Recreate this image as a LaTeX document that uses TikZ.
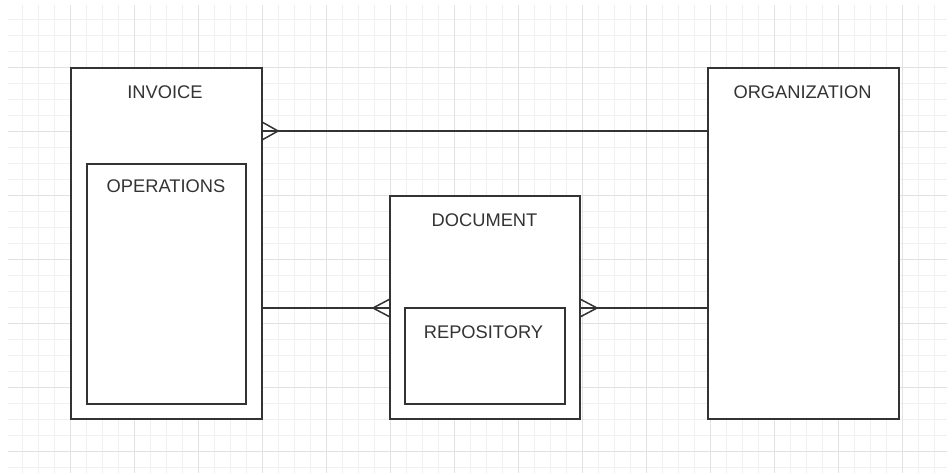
\documentclass[tikz,border=0pt]{standalone}
\usepackage{fontspec}
\setmainfont{Liberation Sans}
\definecolor{minorgrid}{HTML}{F0F0F0}
\definecolor{majorgrid}{HTML}{E2E2E2}
\definecolor{ink}{HTML}{333333}
\tikzset{
	entity/.style={draw=ink,line width=1.5pt,fill=white,outer sep=0pt,inner sep=0pt},
	title/.style={anchor=base,inner sep=0pt,text=ink,font=\fontsize{18.3}{22}\selectfont},
	rel/.style={draw=ink,line width=1.5pt}
}
\begin{document}
\begin{tikzpicture}[x=1pt,y=-1pt]
	\useasboundingbox[fill=white] (0,0) rectangle (947,473);
	\foreach \x in {22,38,...,934} \draw[minorgrid,line width=0.8pt] (\x,5) -- (\x,473);
	\foreach \y in {19,35,...,467} \draw[minorgrid,line width=0.8pt] (8,\y) -- (947,\y);
	\foreach \x in {70,134,...,902} \draw[majorgrid,line width=0.8pt] (\x,5) -- (\x,473);
	\foreach \y in {67,131,...,451} \draw[majorgrid,line width=0.8pt] (8,\y) -- (947,\y);
	\node[entity,minimum width=191pt,minimum height=351pt] (inv) at (166.5,243.5) {};
	\node[entity,minimum width=159pt,minimum height=240pt] (ops) at (166.5,284) {};
	\node[entity,minimum width=190pt,minimum height=223pt] (doc) at (485,307.5) {};
	\node[entity,minimum width=160pt,minimum height=96pt] (rep) at (485,356) {};
	\node[entity,minimum width=191pt,minimum height=351pt] (org) at (803.5,243.5) {};
	\node[title] (invt) at (165,99) {INVOICE};
	\node[title] (opst) at (166,193) {OPERATIONS};
	\node[title] (doct) at (484.5,226) {DOCUMENT};
	\node[title] (rept) at (483.5,338) {REPOSITORY};
	\node[title] (orgt) at (802.5,99) {ORGANIZATION};
	\coordinate (f1) at (278,131); \coordinate (f2) at (373,308); \coordinate (f3) at (597,308);
	\draw[rel] (inv.east |- f1) -- (org.west |- f1);
	\draw[rel] (inv.east |- 0,122) -- (f1) -- (inv.east |- 0,140);
	\draw[rel] (inv.east |- f2) -- (doc.west |- f2);
	\draw[rel] (doc.west |- 0,299) -- (f2) -- (doc.west |- 0,317);
	\draw[rel] (doc.east |- f3) -- (org.west |- f3);
	\draw[rel] (doc.east |- 0,299) -- (f3) -- (doc.east |- 0,317);
\end{tikzpicture}
\end{document}
